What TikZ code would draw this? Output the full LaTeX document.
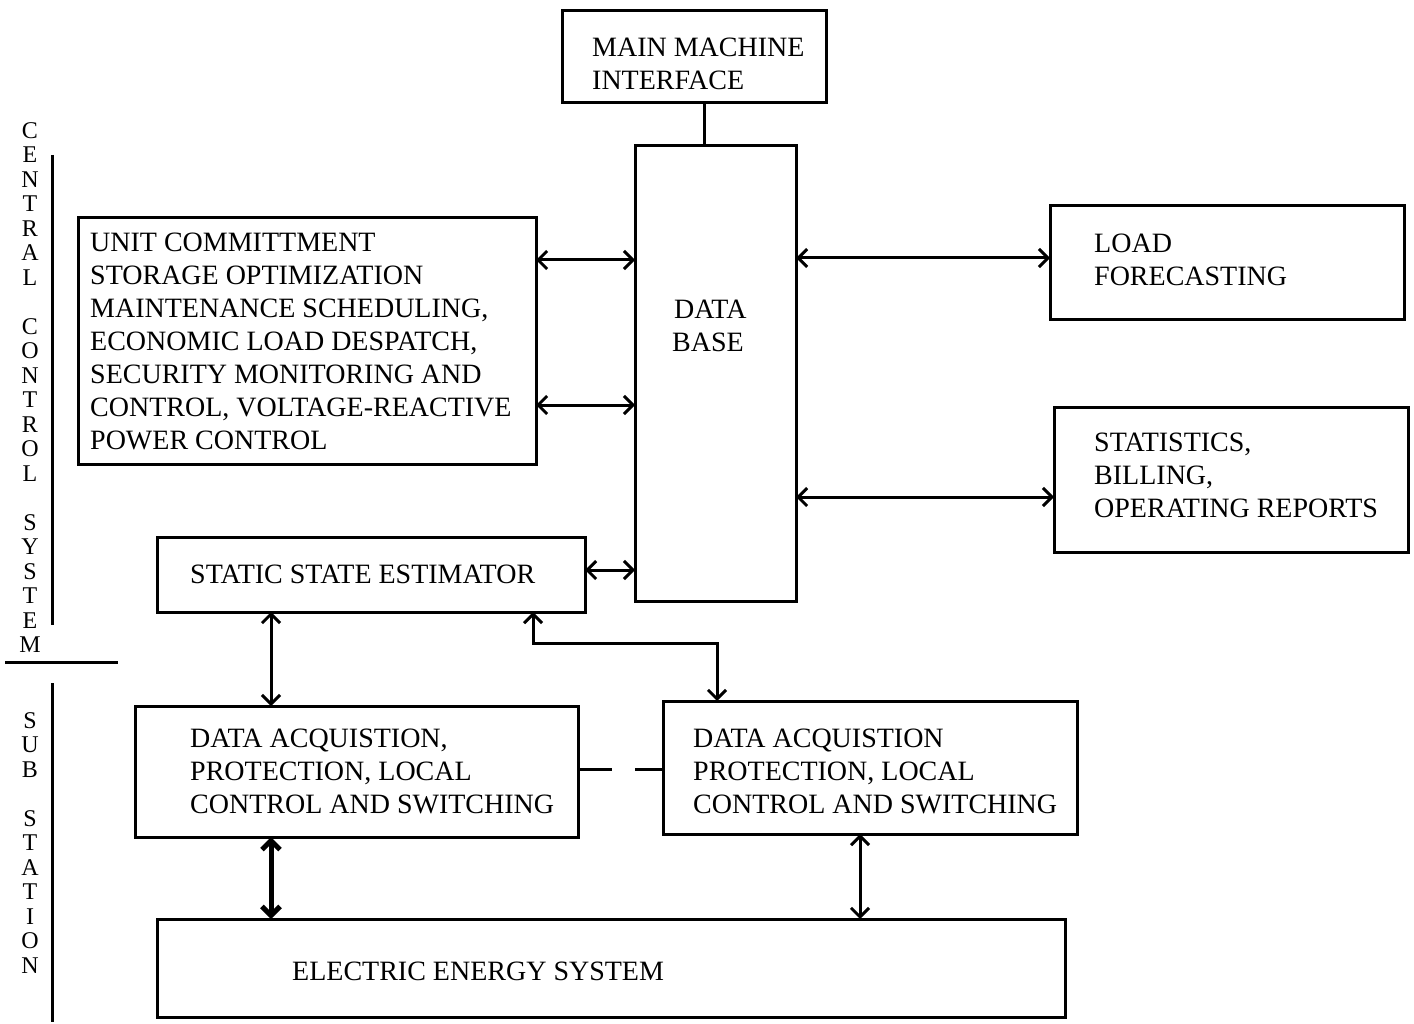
\documentclass[tikz,border=0pt]{standalone}
\usepackage{fontspec}
\setmainfont{Liberation Serif}
\usetikzlibrary{arrows.meta}
\tikzset{
  blk/.style={draw, line width=3pt, inner sep=0pt, outer sep=0pt},
  txt/.style={anchor=west, align=left, inner sep=0pt},
  link/.style={line width=3pt, {Straight Barb[length=9pt,width=18pt]}-{Straight Barb[length=9pt,width=18pt]}},
}
\begin{document}
\begin{tikzpicture}[x=1pt,y=-1pt,font=\fontsize{28}{33}\selectfont]
\useasboundingbox (0,0) rectangle (1414,1024);
% boxes:
\node[blk, minimum width=264pt, minimum height=92pt] (mmi) at (694,57) {};
\node[blk, minimum width=161pt, minimum height=455pt] (db) at (715.5,373.5) {};
\node[blk, minimum width=458pt, minimum height=246pt] (plan) at (307,341) {};
\node[blk, minimum width=354pt, minimum height=114pt] (lf) at (1227,263) {};
\node[blk, minimum width=354pt, minimum height=145pt] (stat) at (1231,479.5) {};
\node[blk, minimum width=428pt, minimum height=75pt] (sse) at (371,574.5) {};
\node[blk, minimum width=443pt, minimum height=131pt] (da1) at (356.5,771.5) {};
\node[blk, minimum width=414pt, minimum height=133pt] (da2) at (870,767.5) {};
\node[blk, minimum width=908pt, minimum height=98pt] (ees) at (611,968) {};
% texts:
\node[txt] (mmi-t) at (592,64) {MAIN MACHINE\\INTERFACE};
\node[txt, anchor=center, align=center] (db-t) at (708,326) {\,DATA\\BASE};
\node[txt] (plan-t) at (90,341) {UNIT COMMITTMENT\\STORAGE OPTIMIZATION\\MAINTENANCE SCHEDULING,\\ECONOMIC LOAD DESPATCH,\\SECURITY MONITORING AND\\CONTROL, VOLTAGE-REACTIVE\\POWER CONTROL};
\node[txt] (lf-t) at (1094,260) {LOAD\\FORECASTING};
\node[txt] (stat-t) at (1094,475) {STATISTICS,\\BILLING,\\OPERATING REPORTS};
\node[txt] (sse-t) at (190,574) {STATIC STATE ESTIMATOR};
\node[txt] (da1-t) at (190,771) {DATA ACQUISTION,\\PROTECTION, LOCAL\\CONTROL AND SWITCHING};
\node[txt] (da2-t) at (693,771) {DATA ACQUISTION\\PROTECTION, LOCAL\\CONTROL AND SWITCHING};
\node[txt] (ees-t) at (292,971) {ELECTRIC ENERGY SYSTEM};
% side labels:
\node[anchor=north, align=center, inner sep=0pt, font=\fontsize{24}{24.5}\selectfont] (ccs) at (30,122)
  {C\\E\\N\\T\\R\\A\\L\\[24.5pt]C\\O\\N\\T\\R\\O\\L\\[24.5pt]S\\Y\\S\\T\\E\\M};
\node[anchor=north, align=center, inner sep=0pt, font=\fontsize{24}{24.5}\selectfont] (sst) at (30,712)
  {S\\U\\B\\[24.5pt]S\\T\\A\\T\\I\\O\\N};
\coordinate (c1) at (52,155);
\coordinate (c2) at (52,625);
\coordinate (s1) at (52,683);
\coordinate (s2) at (52,1022);
\coordinate (h1) at (5,662);
\coordinate (h2) at (118,662);
\draw[line width=3pt] (c1) -- (c2);
\draw[line width=3pt] (s1) -- (s2);
\draw[line width=3pt] (h1) -- (h2);
% connectors:
\draw[line width=3pt] (mmi.south -| 704,0) -- (db.north -| 704,0);
\draw[link] (plan.east |- 0,260) -- (db.west |- 0,260);
\draw[link] (plan.east |- 0,405) -- (db.west |- 0,405);
\draw[link] (db.east |- 0,258) -- (lf.west |- 0,258);
\draw[link] (db.east |- 0,497) -- (stat.west |- 0,497);
\draw[link] (sse.east |- 0,570) -- (db.west |- 0,570);
\draw[link] (sse.south -| 271,0) -- (da1.north -| 271,0);
\draw[link] (sse.south -| 533,0) -- (533,643) -| (da2.north -| 717,0);
\draw[line width=3pt, dash pattern=on 34pt off 23pt] (da1.east |- 0,769) -- (da2.west |- 0,769);
\draw[link, line width=5pt] (da1.south -| 271,0) -- (ees.north -| 271,0);
\draw[link] (da2.south -| 860,0) -- (ees.north -| 860,0);
\end{tikzpicture}
\end{document}
